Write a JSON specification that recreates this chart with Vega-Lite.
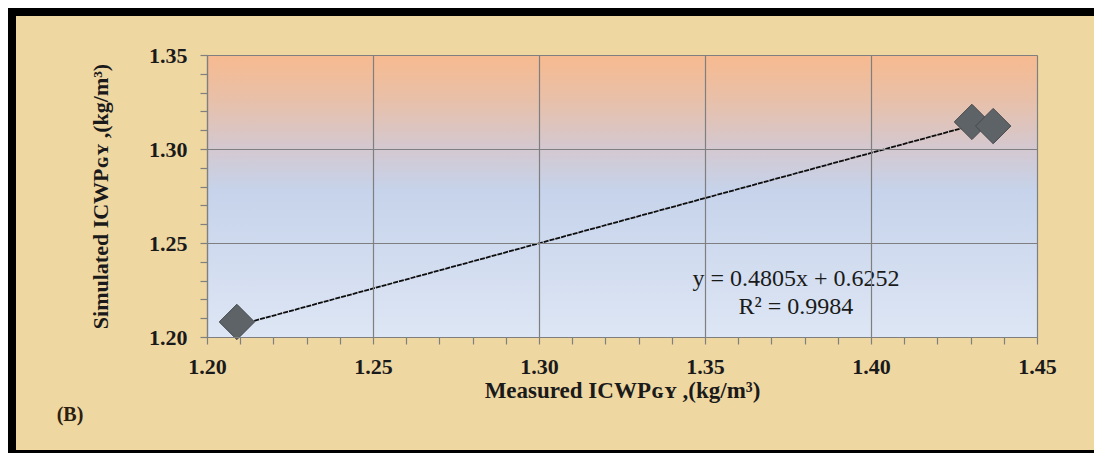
{
  "$schema": "https://vega.github.io/schema/vega-lite/v6.json",
  "width": 830,
  "height": 282,
  "autosize": {"type": "none"},
  "padding": {"left": 207, "top": 55, "right": 57, "bottom": 116},
  "background": "#ffffff",
  "config": {"view": {"stroke": null}},
  "datasets": {
    "points": [
      {"measured": 1.209, "simulated": 1.208},
      {"measured": 1.4304, "simulated": 1.3144},
      {"measured": 1.4368, "simulated": 1.3122}
    ],
    "trend": [
      {"measured": 1.209, "fitted": 1.2061},
      {"measured": 1.437, "fitted": 1.3157}
    ],
    "notes": [{"label": "y = 0.4805x + 0.6252\nR² = 0.9984"}],
    "panel": [{"label": "(B)"}]
  },
  "layer": [
    {
      "data": {"values": [{}]},
      "mark": {"type": "rect", "fill": "#EFD7A2", "stroke": "#000000", "strokeWidth": 8, "clip": false},
      "encoding": {
        "x": {"datum": 1.141265, "type": "quantitative", "scale": {"domain": [1.2, 1.45], "nice": false, "zero": false}},
        "x2": {"datum": 1.6},
        "y": {"datum": 1.372872, "type": "quantitative", "scale": {"domain": [1.2, 1.35], "nice": false, "zero": false}},
        "y2": {"datum": 1.13777}
      }
    },
    {
      "data": {"values": [{}]},
      "mark": {
        "type": "rect",
        "fill": {
          "gradient": "linear", "x1": 0, "y1": 0, "x2": 0, "y2": 1,
          "stops": [
            {"offset": 0, "color": "#F7BA8F"},
            {"offset": 0.16, "color": "#E8C0A9"},
            {"offset": 0.33, "color": "#D4C8D0"},
            {"offset": 0.48, "color": "#C6D3EA"},
            {"offset": 0.7, "color": "#D0DBEF"},
            {"offset": 1, "color": "#DDE6F4"}
          ]
        }
      },
      "encoding": {
        "x": {"datum": 1.2, "type": "quantitative", "scale": {"domain": [1.2, 1.45], "nice": false, "zero": false}},
        "x2": {"datum": 1.45},
        "y": {"datum": 1.35, "type": "quantitative", "scale": {"domain": [1.2, 1.35], "nice": false, "zero": false}},
        "y2": {"datum": 1.2}
      }
    },
    {
      "data": {"name": "trend"},
      "mark": {"type": "line", "color": "#0d0d0d", "strokeWidth": 1.8, "strokeDash": [5, 1]},
      "encoding": {
        "x": {"field": "measured", "type": "quantitative", "scale": {"domain": [1.2, 1.45], "nice": false, "zero": false}},
        "y": {"field": "fitted", "type": "quantitative", "scale": {"domain": [1.2, 1.35], "nice": false, "zero": false}}
      }
    },
    {
      "data": {"name": "points"},
      "mark": {"type": "point", "shape": "diamond", "filled": true, "size": 1250, "color": "#5E6367", "stroke": "#45494D", "strokeWidth": 1, "opacity": 1},
      "encoding": {
        "x": {
          "field": "measured", "type": "quantitative",
          "scale": {"domain": [1.2, 1.45], "nice": false, "zero": false},
          "axis": {
            "title": "Measured ICWPɢʏ ,(kg/m³)",
            "values": [1.2, 1.21, 1.22, 1.23, 1.24, 1.25, 1.26, 1.27, 1.28, 1.29, 1.3, 1.31, 1.32, 1.33, 1.34, 1.35, 1.36, 1.37, 1.38, 1.39, 1.4, 1.41, 1.42, 1.43, 1.44, 1.45],
            "tickCount": 200,
            "labelExpr": "indexof([1.2, 1.25, 1.3, 1.35, 1.4, 1.45], datum.value) >= 0 ? format(datum.value, '.2f') : ''",
            "grid": true,
            "gridColor": "#7F7F7F",
            "gridOpacity": {"condition": {"test": "indexof([1.2, 1.25, 1.3, 1.35, 1.4, 1.45], datum.value) >= 0", "value": 1}, "value": 0},
            "gridWidth": 1.2,
            "domainColor": "#7F7F7F", "domainWidth": 1.2,
            "tickColor": "#7F7F7F", "tickSize": 7, "tickWidth": 1.2,
            "labelFont": "Liberation Serif", "labelFontSize": 22, "labelFontWeight": "bold", "labelColor": "#1a1a1a",
            "labelPadding": 12, "labelOverlap": false, "labelFlush": false,
            "titleFont": "Liberation Serif", "titleFontSize": 23, "titleFontWeight": "bold", "titleColor": "#1a1a1a",
            "titlePadding": 2,
            "zindex": 1
          }
        },
        "y": {
          "field": "simulated", "type": "quantitative",
          "scale": {"domain": [1.2, 1.35], "nice": false, "zero": false},
          "axis": {
            "title": "Simulated ICWPɢʏ ,(kg/m³)",
            "values": [1.2, 1.21, 1.22, 1.23, 1.24, 1.25, 1.26, 1.27, 1.28, 1.29, 1.3, 1.31, 1.32, 1.33, 1.34, 1.35],
            "tickCount": 200,
            "labelExpr": "indexof([1.2, 1.25, 1.3, 1.35], datum.value) >= 0 ? format(datum.value, '.2f') : ''",
            "grid": true,
            "gridColor": "#7F7F7F",
            "gridOpacity": {"condition": {"test": "indexof([1.2, 1.25, 1.3, 1.35], datum.value) >= 0", "value": 1}, "value": 0},
            "gridWidth": 1.2,
            "domainColor": "#7F7F7F", "domainWidth": 1.2,
            "tickColor": "#7F7F7F", "tickSize": 7, "tickWidth": 1.2,
            "labelFont": "Liberation Serif", "labelFontSize": 22, "labelFontWeight": "bold", "labelColor": "#1a1a1a",
            "labelPadding": 13, "labelOverlap": false, "labelFlush": false,
            "titleFont": "Liberation Serif", "titleFontSize": 22, "titleFontWeight": "bold", "titleColor": "#1a1a1a",
            "titlePadding": 36,
            "zindex": 1
          }
        }
      }
    },
    {
      "data": {"name": "notes"},
      "mark": {"type": "text", "font": "Liberation Serif", "fontSize": 24, "color": "#1a1a1a", "lineBreak": "\n", "lineHeight": 28, "align": "center", "baseline": "middle"},
      "encoding": {
        "x": {"datum": 1.3774, "type": "quantitative", "scale": {"domain": [1.2, 1.45], "nice": false, "zero": false}},
        "y": {"datum": 1.23085, "type": "quantitative", "scale": {"domain": [1.2, 1.35], "nice": false, "zero": false}},
        "text": {"field": "label"}
      }
    },
    {
      "data": {"name": "panel"},
      "mark": {"type": "text", "font": "Liberation Serif", "fontSize": 20, "fontWeight": "bold", "color": "#2b2010", "align": "center", "baseline": "middle", "clip": false},
      "encoding": {
        "x": {"datum": 1.15873, "type": "quantitative", "scale": {"domain": [1.2, 1.45], "nice": false, "zero": false}},
        "y": {"datum": 1.15851, "type": "quantitative", "scale": {"domain": [1.2, 1.35], "nice": false, "zero": false}},
        "text": {"field": "label"}
      }
    }
  ]
}
